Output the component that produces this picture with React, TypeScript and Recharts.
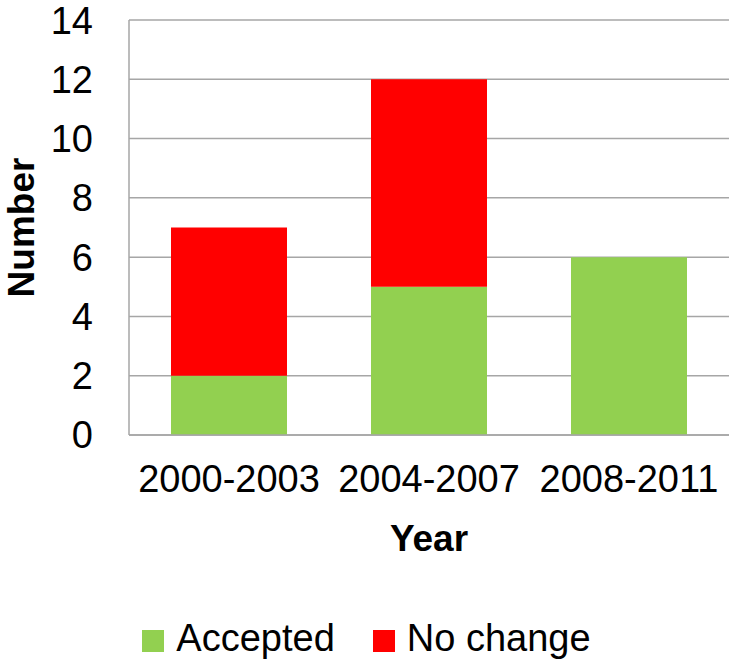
import React from 'react';
import { BarChart, Bar, XAxis, YAxis, CartesianGrid, Legend } from 'recharts';

const periods = ['2000-2003', '2004-2007', '2008-2011'];
const accepted = [2, 5, 6];
const noChange = [5, 7, 0];
const yTicks = [0, 2, 4, 6, 8, 10, 12, 14];

const data = periods.map((p, i) => ({ period: p, accepted: accepted[i], noChange: noChange[i] }));

const FONT = '"Liberation Sans", Arial, sans-serif';

const App: React.FC = () => {
  return (
    <div style={{ position: 'absolute', left: 0, top: 0, width: 733, height: 664, background: '#fff', fontFamily: FONT }}>
      <BarChart
        width={733}
        height={664}
        data={data}
        margin={{ top: 20, right: 4, bottom: 5, left: 0 }}
        barCategoryGap="21%"
      >
        <CartesianGrid vertical={false} stroke="#a6a6a6" strokeWidth={1.5} />
        <XAxis
          dataKey="period"
          height={182}
          tickLine={false}
          tickMargin={24}
          axisLine={{ stroke: '#a6a6a6', strokeWidth: 1.5 }}
          tick={{ fill: '#000', fontSize: 38, fontFamily: FONT }}
          label={{ value: 'Year', position: 'insideBottom', offset: 66, style: { fill: '#000', fontSize: 37, fontWeight: 'bold', fontFamily: FONT } }}
        />
        <YAxis
          width={129}
          domain={[0, 14]}
          ticks={yTicks}
          interval={0}
          tickLine={false}
          tickMargin={30}
          axisLine={{ stroke: '#a6a6a6', strokeWidth: 1.5 }}
          tick={{ fill: '#000', fontSize: 38, fontFamily: FONT }}
          label={{ value: 'Number', angle: -90, position: 'insideLeft', offset: 21, style: { textAnchor: 'middle', fill: '#000', fontSize: 37, fontWeight: 'bold', fontFamily: FONT } }}
        />
        <Legend
          verticalAlign="bottom"
          align="center"
          iconType="square"
          iconSize={22}
          wrapperStyle={{ fontSize: 38, fontFamily: FONT, lineHeight: '42px', paddingLeft: 14, boxSizing: 'border-box' }}
          formatter={(value: string, _entry: any, index: number) => (
            <span style={{ color: '#000', marginLeft: 8, marginRight: index === 0 ? 28 : 0 }}>{value}</span>
          )}
        />
        <Bar dataKey="accepted" name="Accepted" stackId="a" fill="#92d050" isAnimationActive={false} />
        <Bar dataKey="noChange" name="No change" stackId="a" fill="#ff0000" isAnimationActive={false} />
      </BarChart>
    </div>
  );
};

export default App;
